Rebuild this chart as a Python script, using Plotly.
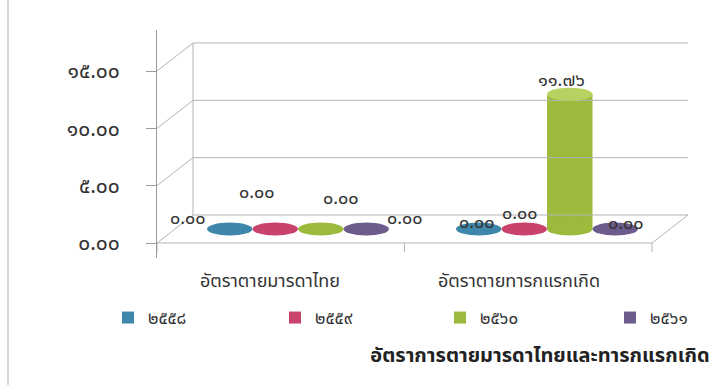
import plotly.graph_objects as go

# ---- data -------------------------------------------------------------
categories = ["อัตราตายมารดาไทย", "อัตราตายทารกแรกเกิด"]
years = ["๒๕๕๘", "๒๕๕๙", "๒๕๖๐", "๒๕๖๑"]
rate_2558 = [0.00, 0.00]
rate_2559 = [0.00, 0.00]
rate_2560 = [0.00, 11.76]
rate_2561 = [0.00, 0.00]
y_ticks = [0, 5, 10, 15]

series = [rate_2558, rate_2559, rate_2560, rate_2561]

# ---- styling ------------------------------------------------------------
colors = ["#3f87aa", "#c8426c", "#9cbb3c", "#6c5c8e"]
top_colors = ["#6aa7c4", "#dc6e90", "#b8d262", "#8c7eaa"]
FONT = "Noto Sans Thai, Noto Sans, DejaVu Sans, sans-serif"

THAI_DIGITS = str.maketrans("0123456789", "๐๑๒๓๔๕๖๗๘๙")


def thai_num(v):
    return f"{v:.2f}".translate(THAI_DIGITS)


# pixel geometry of the pseudo-3D frame
W, H = 714, 385
L, R, T, B = 157, 690, 30, 258
X0_PX, CAT_PX = 298, 249          # first category centre, px per category
ZERO_PY, UNIT_PY = 243, 11.467    # y=0 on the front axis, px per unit
DEPTH_X, DEPTH_Y = 36, 28         # back wall offset in px
BAR_PX = 45.5                     # cylinder width in px
ELL_PX = 13                       # cylinder cap height in px
LEGEND_X_PX = [108, 275, 440, 610]  # left edge of each legend entry
LEGEND_Y_PX = 318


def ux(px):
    return (px - X0_PX) / CAT_PX


def uy_len(py):
    return py / UNIT_PY


x_range = [ux(L), ux(R)]
y_range = [(ZERO_PY - B) / UNIT_PY, (ZERO_PY - T) / UNIT_PY]
dxu = DEPTH_X / CAT_PX
dyu = uy_len(DEPTH_Y)
base_off = dyu / 2                # cylinders stand mid-depth on the floor
bar_w = BAR_PX / CAT_PX
ell_h = uy_len(ELL_PX)

# label offsets (px) per series / category
label_shift = [
    [(-42, 11), (-2, 7)],
    [(-18, 37), (-4, 16)],
    [(20, 31), (-8, 14)],
    [(39, 11), (11, 6)],
]

fig = go.Figure()

legend_ids = ["legend", "legend2", "legend3", "legend4"]
for i, (name, vals) in enumerate(zip(years, series)):
    fig.add_trace(go.Bar(
        x=categories, y=vals, base=[base_off] * len(vals), name=name,
        marker=dict(color=colors[i], line=dict(width=0)),
        width=bar_w, offset=(-2 + i) * bar_w,
        hoverinfo="skip", legend=legend_ids[i], showlegend=True,
    ))

shapes = []
line_style = dict(color="#b4b4b4", width=1)

# back wall grid lines with perspective diagonals
for v in y_ticks:
    shapes.append(dict(type="line", xref="x", yref="y",
                       x0=ux(L), y0=v, x1=ux(L) + dxu, y1=v + dyu, line=line_style))
    shapes.append(dict(type="line", xref="x", yref="y",
                       x0=ux(L) + dxu, y0=v + dyu, x1=ux(R - 2), y1=v + dyu, line=line_style))
shapes.append(dict(type="line", xref="x", yref="y",
                   x0=ux(L) + dxu, y0=dyu, x1=ux(L) + dxu, y1=y_ticks[-1] + dyu, line=line_style))
# floor front edge and right side
floor_r = ux(R - DEPTH_X - 2)
shapes.append(dict(type="line", xref="x", yref="y",
                   x0=ux(L), y0=0, x1=floor_r, y1=0, line=line_style))
shapes.append(dict(type="line", xref="x", yref="y",
                   x0=floor_r, y0=0, x1=floor_r + dxu, y1=dyu, line=line_style))
# category boundary ticks on the front edge
for px in (L, L + (floor_r - ux(L)) * CAT_PX / 2, floor_r * CAT_PX + X0_PX):
    shapes.append(dict(type="line", xref="x", yref="y",
                       x0=ux(px), y0=0, x1=ux(px), y1=-uy_len(9), line=line_style))

# cylinder caps
annotations = []
for i, vals in enumerate(series):
    for j, v in enumerate(vals):
        cx = j + (-1.5 + i) * bar_w
        top = base_off + v
        if v > 0:
            shapes.append(dict(type="circle", xref="x", yref="y", layer="above",
                               x0=cx - bar_w / 2, x1=cx + bar_w / 2,
                               y0=base_off - ell_h / 2, y1=base_off + ell_h / 2,
                               fillcolor=colors[i], line=dict(width=0)))
            shapes.append(dict(type="circle", xref="x", yref="y", layer="above",
                               x0=cx - bar_w / 2, x1=cx + bar_w / 2,
                               y0=top - ell_h / 2, y1=top + ell_h / 2,
                               fillcolor=top_colors[i], line=dict(width=0)))
        else:
            shapes.append(dict(type="circle", xref="x", yref="y", layer="above",
                               x0=cx - bar_w / 2, x1=cx + bar_w / 2,
                               y0=top - ell_h / 2, y1=top + ell_h / 2,
                               fillcolor=colors[i], line=dict(width=0)))
        sx, sy = label_shift[i][j]
        annotations.append(dict(x=cx, y=top, xref="x", yref="y", text=thai_num(v),
                                showarrow=False, xshift=sx, yshift=sy,
                                font=dict(family=FONT, size=18, color="#333333")))

# scan edge on the left
shapes.append(dict(type="line", xref="paper", yref="paper",
                   x0=-(L - 8) / (R - L), x1=-(L - 8) / (R - L), y0=-(H - B) / (B - T),
                   y1=1 + T / (B - T), line=dict(color="#c8c8c8", width=1.5)))

legend_layout = {}
for k, lid in enumerate(legend_ids):
    legend_layout[lid] = dict(
        orientation="h", xref="container", yref="container",
        x=LEGEND_X_PX[k] / W, y=1 - LEGEND_Y_PX / H,
        xanchor="left", yanchor="middle",
        font=dict(family=FONT, size=17, color="#333333"),
        bgcolor="rgba(0,0,0,0)", visible=True,
    )

fig.update_layout(
    width=W, height=H,
    showlegend=True,
    margin=dict(l=L, r=W - R, t=T, b=H - B, autoexpand=False),
    paper_bgcolor="white", plot_bgcolor="white",
    barmode="overlay",
    shapes=shapes, annotations=annotations,
    font=dict(family=FONT, color="#333333"),
    title=dict(text="<b>อัตราการตายมารดาไทยและทารกแรกเกิด</b>",
               x=540 / W, xanchor="center", xref="container",
               y=1 - 355 / H, yanchor="middle", yref="container",
               font=dict(family=FONT, size=20, color="#222222")),
    xaxis=dict(range=x_range, showgrid=False, zeroline=False, showline=False,
               ticks="", ticklabelshift=-28, ticklabelstandoff=10,
               tickfont=dict(family=FONT, size=18, color="#333333")),
    yaxis=dict(range=y_range, showgrid=False, zeroline=False,
               showline=True, linecolor="#9a9a9a", linewidth=1,
               ticks="outside", ticklen=10, tickcolor="#9a9a9a",
               tickvals=y_ticks, ticktext=[thai_num(v) for v in y_ticks],
               ticklabelstandoff=22,
               tickfont=dict(family=FONT, size=21, color="#333333")),
    **legend_layout,
)

fig.write_html("out.html")
